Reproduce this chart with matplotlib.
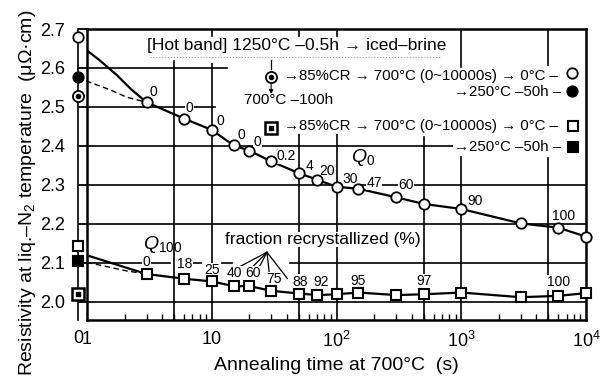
import numpy as np
import matplotlib
matplotlib.use('Agg')
import matplotlib.pyplot as plt

plt.rcParams['font.family'] = ['Liberation Sans Narrow', 'Liberation Sans', 'DejaVu Sans']
plt.rcParams['mathtext.fontset'] = 'custom'
plt.rcParams['mathtext.rm'] = 'Liberation Sans'
plt.rcParams['mathtext.it'] = 'Liberation Sans:italic'
plt.rcParams['mathtext.bf'] = 'Liberation Sans:bold'

# ---------------- data ----------------
time_s = [3, 6, 10, 15, 20, 30, 50, 70, 100, 150, 300, 500, 1000, 3000, 6000, 10000]
q0_res = [2.512, 2.470, 2.441, 2.401, 2.388, 2.360, 2.330, 2.313, 2.295, 2.290,
          2.268, 2.251, 2.238, 2.201, 2.190, 2.167]
q0_frac = ['0', '0', '0', '0', '0', '0.2', '4', '20', '30', '47', '60', '', '90', '', '100', '']
q100_res = [2.071, 2.059, 2.052, 2.040, 2.040, 2.028, 2.021, 2.017, 2.019, 2.0235,
            2.017, 2.019, 2.0235, 2.0115, 2.015, 2.022]
q100_frac = ['0', '18', '25', '40', '60', '75', '88', '92', '', '95', '', '97', '', '', '100', '']

# leading solid curves (from t = 1 s to first point)
q0_lead_t = [1, 1.27, 1.73, 2.28, 3]
q0_lead_v = [2.645, 2.619, 2.582, 2.544, 2.512]
q100_lead_t = [1, 3]
q100_lead_v = [2.119, 2.071]

# initial (t = 0) values
t0_open_circle = 2.680
t0_filled_circle = 2.578
t0_bullseye = 2.527
t0_open_square = 2.143
t0_filled_square = 2.104
t0_square_dot = 2.019

# dashed curves from the aged (250C-50h) initial state
q0_dash_t = [1, 1.53, 2.08, 3]
q0_dash_v = [2.566, 2.544, 2.525, 2.512]
q100_dash_t = [1, 2.08, 3]
q100_dash_v = [2.101, 2.079, 2.071]

yticks = [2.0, 2.1, 2.2, 2.3, 2.4, 2.5, 2.6, 2.7]
xticks = [1, 10, 100, 1000, 10000]
xticklabels = ['1', '10', '$10^2$', '$10^3$', '$10^4$']

# ---------------- style / layout ----------------
q0_lab_off = [(5, 7.6), (3.8, 7.5), (6.5, 6.7), (5.8, 7.7), (6.1, 5.8), (10.8, 3.6),
              (7.4, 5), (7.4, 6), (10, 5.8), (11.2, 4.3), (7.2, 8.6), (0, 0),
              (9.9, 5.8), (0, 0), (4.1, 8.4), (0, 0)]
q100_lab_off = [(0, 8.6), (0.7, 10.3), (0.5, 8.1), (0.7, 9.4), (2.7, 9.4), (1.7, 8.4),
                (0.5, 8.4), (2.9, 9.4), (0, 0), (0, 8.4), (0, 0), (0, 9.6),
                (0, 0), (0, 0), (0, 9.9), (0, 0)]

XMIN, XMAX = 1, 1e4
YMIN, YMAX = 1.953, 2.70
COL_FRAC = -0.018  # axes-fraction position of the t = 0 column
T0 = 10 ** (np.log10(XMIN) + COL_FRAC * (np.log10(XMAX) - np.log10(XMIN)))

fig = plt.figure(figsize=(6.05, 3.85), dpi=100)
ax = fig.add_axes([87 / 605, 1 - 320 / 385, 499 / 605, 291 / 385])
ax.set_xscale('log')
ax.set_xlim(XMIN, XMAX)
ax.set_ylim(YMIN, YMAX)

LW_GRID = 1.2
# vertical grid segments (x, ymin, ymax in axes fraction)
vgrid = [(5, 0, 0.89), (10, 0, 0.88), (10, 0.975, 1), (50, 0, 0.643), (50, 0.975, 1),
         (100, 0, 0.653), (100, 0.975, 1), (500, 0, 0.63), (1000, 0, 0.56), (1000, 0.87, 1),
         (5000, 0, 0.557), (5000, 0.876, 1)]
for x, a, b in vgrid:
    ax.axvline(x, a, b, color='k', lw=LW_GRID, zorder=1)
# horizontal grid segments (y, xmin, xmax in axes fraction)
hgrid = [(2.0, 0, 1), (2.1, 0, 0.167), (2.1, 0.21, 0.228), (2.1, 0.27, 0.29), (2.1, 0.407, 1),
         (2.2, 0, 1), (2.3, 0, 1), (2.4, 0, 0.747), (2.5, 0, 0.257), (2.6, 0, 0.28)]
for y, a, b in hgrid:
    ax.axhline(y, a, b, color='k', lw=LW_GRID, zorder=1)

for s in ax.spines.values():
    s.set_linewidth(1.8)

# t = 0 column line
ax.axvline(T0, 0, 1, color='k', lw=1.2, clip_on=False, zorder=2)

# curves
ax.plot(q0_lead_t, q0_lead_v, color='k', lw=1.6, zorder=3)
ax.plot(time_s, q0_res, color='k', lw=1.6, zorder=3)
ax.plot(q100_lead_t, q100_lead_v, color='k', lw=1.6, zorder=3)
ax.plot(time_s, q100_res, color='k', lw=1.6, zorder=3)
ax.plot([T0] + q0_dash_t, [t0_filled_circle] + q0_dash_v, color='k', lw=1.0,
        ls=(0, (4, 2.5)), clip_on=False, zorder=3)
ax.plot([T0] + q100_dash_t, [t0_filled_square] + q100_dash_v, color='k', lw=1.0,
        ls=(0, (4, 2.5)), clip_on=False, zorder=3)

MS_C, MS_S = 7.5, 7
ax.plot(time_s, q0_res, ls='none', marker='o', ms=MS_C, mfc='white', mec='k', mew=1.3, zorder=5,
        clip_on=False)
ax.plot(time_s, q100_res, ls='none', marker='s', ms=MS_S, mfc='white', mec='k', mew=1.5, zorder=5,
        clip_on=False)

# t = 0 markers
ax.plot([T0], [t0_open_circle], marker='o', ms=MS_C, mfc='white', mec='k', mew=1.3, clip_on=False, zorder=6)
ax.plot([T0], [t0_filled_circle], marker='o', ms=MS_C, mfc='k', mec='k', mew=1.3, clip_on=False, zorder=6)
ax.plot([T0], [t0_bullseye], marker='o', ms=MS_C + 0.5, mfc='white', mec='k', mew=1.3, clip_on=False, zorder=6)
ax.plot([T0], [t0_bullseye], marker='o', ms=3, mfc='k', mec='k', clip_on=False, zorder=7)
ax.plot([T0], [t0_open_square], marker='s', ms=MS_S, mfc='white', mec='k', mew=1.5, clip_on=False, zorder=6)
ax.plot([T0], [t0_filled_square], marker='s', ms=MS_S, mfc='k', mec='k', mew=1.5, clip_on=False, zorder=6)
ax.plot([T0], [t0_square_dot], marker='s', ms=MS_S + 1.5, mfc='white', mec='k', mew=1.8, clip_on=False, zorder=6)
ax.plot([T0], [t0_square_dot], marker='s', ms=3.5, mfc='k', mec='k', clip_on=False, zorder=7)

# fraction labels
WB = dict(facecolor='white', edgecolor='none', pad=0.3)
for t, v, lab, off in zip(time_s, q0_res, q0_frac, q0_lab_off):
    if lab:
        ax.annotate(lab, (t, v), xytext=off, textcoords='offset points', ha='center', va='center',
                    fontsize=10, zorder=4, bbox=WB)
for t, v, lab, off in zip(time_s, q100_res, q100_frac, q100_lab_off):
    if lab:
        ax.annotate(lab, (t, v), xytext=off, textcoords='offset points', ha='center', va='center',
                    fontsize=10, zorder=4, bbox=WB)

# fan lines from "fraction recrystallized" text
fan_origin = (27.7, 2.127)
for i in [2, 3, 4, 5, 6]:
    ax.annotate('', xy=(time_s[i], q100_res[i]), xytext=fan_origin,
                arrowprops=dict(arrowstyle='-', color='k', lw=0.9, shrinkA=0, shrinkB=13.5),
                zorder=3)
ax.text(78, 2.160, 'fraction recrystallized (%)', ha='center', va='center', fontsize=12.5,
        zorder=4, bbox=WB)

ax.text(0.553, 0.557, '$Q_0$', transform=ax.transAxes, ha='center', va='center', fontsize=14)
ax.text(0.152, 0.258, '$Q_{100}$', transform=ax.transAxes, ha='center', va='center', fontsize=14)

# process description (legend)
TA = ax.transAxes
ax.text(0.421, 0.945, '[Hot band] 1250°C –0.5h → iced–brine', transform=TA, ha='center',
        va='center', fontsize=12.5, zorder=4, bbox=WB)
ax.plot([0.126, 0.707], [0.904, 0.904], transform=TA, color='0.6', lw=0.8, ls=':', zorder=4)
ax.plot([0.369, 0.369], [0.895, 0.862], transform=TA, color='k', lw=0.9, zorder=4)
ax.plot([0.369], [0.835], transform=TA, marker='o', ms=MS_C + 0.5, mfc='white', mec='k', mew=1.3, zorder=6)
ax.plot([0.369], [0.835], transform=TA, marker='o', ms=3, mfc='k', mec='k', zorder=7)
ax.annotate('', xy=(0.369, 0.776), xytext=(0.369, 0.812), xycoords=TA, textcoords=TA,
            arrowprops=dict(arrowstyle='-|>', color='k', lw=0.8, mutation_scale=6, shrinkA=0, shrinkB=0))
ax.text(0.403, 0.756, '700°C –100h', transform=TA, ha='center', va='center', fontsize=11,
        zorder=4, bbox=WB)
ax.text(0.395, 0.838, '→85%CR → 700°C (0~10000s) → 0°C –', transform=TA, ha='left',
        va='center', fontsize=10.8, zorder=4, bbox=WB)
ax.text(0.95, 0.784, '→250°C –50h –', transform=TA, ha='right', va='center', fontsize=10.8,
        zorder=4, bbox=WB)
ax.plot([0.972], [0.848], transform=TA, marker='o', ms=MS_C, mfc='white', mec='k', mew=1.3, zorder=6)
ax.plot([0.972], [0.786], transform=TA, marker='o', ms=MS_C, mfc='k', mec='k', mew=1.3, zorder=6)

ax.plot([0.369], [0.660], transform=TA, marker='s', ms=MS_S + 1.5, mfc='white', mec='k', mew=1.8, zorder=6)
ax.plot([0.369], [0.660], transform=TA, marker='s', ms=3.5, mfc='k', mec='k', zorder=7)
ax.text(0.395, 0.665, '→85%CR → 700°C (0~10000s) → 0°C –', transform=TA, ha='left',
        va='center', fontsize=10.8, zorder=4, bbox=WB)
ax.text(0.95, 0.594, '→250°C –50h –', transform=TA, ha='right', va='center', fontsize=10.8,
        zorder=4, bbox=WB)
ax.plot([0.974], [0.668], transform=TA, marker='s', ms=MS_S, mfc='white', mec='k', mew=1.5, zorder=6)
ax.plot([0.974], [0.596], transform=TA, marker='s', ms=MS_S, mfc='k', mec='k', mew=1.5, zorder=6)

# axes ticks & labels
ax.set_yticks(yticks)
ax.set_yticklabels([f'{v:.1f}' for v in yticks], fontsize=13)
ax.tick_params(axis='y', direction='out', length=6.5, width=1.3, pad=9.5, right=False)
ax.set_xticks(xticks)
ax.set_xticklabels(xticklabels, fontsize=13)
ax.tick_params(axis='x', which='major', direction='in', length=0, pad=8, top=False)
ax.xaxis.set_minor_locator(matplotlib.ticker.LogLocator(base=10, subs=np.arange(2, 10), numticks=20))
ax.xaxis.set_minor_formatter(matplotlib.ticker.NullFormatter())
ax.tick_params(axis='x', which='minor', direction='in', length=4, width=1.0, top=False)
ax.text(T0, -0.035, '0', transform=matplotlib.transforms.blended_transform_factory(ax.transData, ax.transAxes),
        ha='center', va='top', fontsize=13)

ax.set_xlabel('Annealing time at 700°C  (s)', fontsize=14, labelpad=4)
fig.text(28 / 605, 0.5, 'Resistivity at liq.–N$_2$ temperature  (μΩ·cm)', rotation=90,
         ha='center', va='center', fontsize=14)

fig.savefig('out.png', dpi=100)
